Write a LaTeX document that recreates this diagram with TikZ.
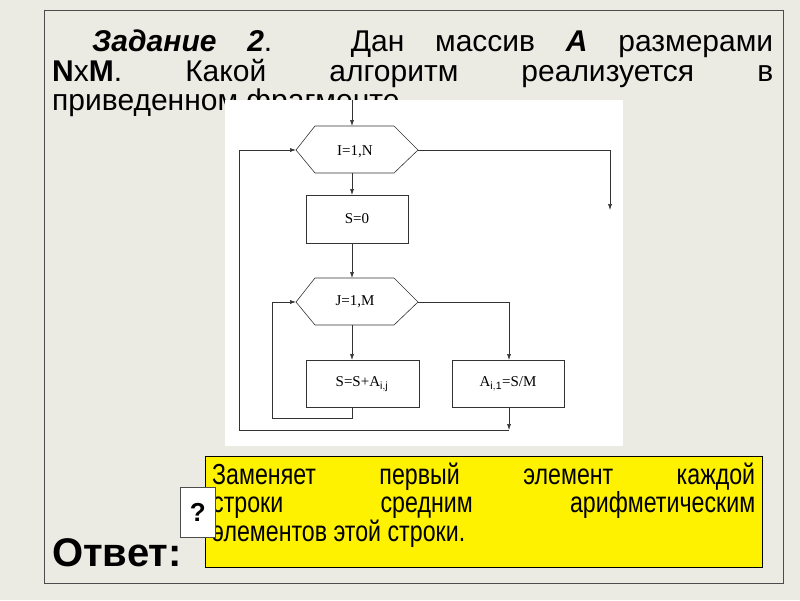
\documentclass[tikz,border=0pt]{standalone}
\usepackage{fontspec}
\setmainfont{Liberation Sans}
\newfontfamily\serf{Liberation Serif}
\newfontfamily\narrowf[FakeStretch=0.8]{Liberation Sans}
\usetikzlibrary{arrows.meta}
\definecolor{bgc}{HTML}{ECEBE3}
\begin{document}
\begin{tikzpicture}[x=1pt,y=-1pt,
  blk/.style={draw=black!80,line width=0.6pt,fill=white},
  con/.style={draw=black!80,line width=0.6pt},
  arr/.style={con,-{Latex[length=6pt,width=4pt]}},
  lab/.style={font=\serf\fontsize{15}{15}\selectfont}]
\useasboundingbox (0,0) rectangle (800,600);
\fill[bgc] (0,0) rectangle (800,600);
\draw[black!70,line width=0.8pt] (44,10) rectangle (783,583);
\node[anchor=north west,inner sep=0,text width=721pt,align=justify] (title) at (52,30)
 {\fontsize{30}{37}\selectfont\hspace*{40pt}\textbf{\textit{Задание 2}}. Дан массив \textbf{\textit{A}} размерами\linebreak \textbf{N}x\textbf{M}. Какой алгоритм реализуется в\linebreak приведенном фрагменте};
\fill[white] (225,100) rectangle (623,446);
% flowchart
\draw[blk] (296,150) -- (315,126) -- (394,126) -- (418,150) -- (394,173) -- (315,173) -- cycle;
\node[lab] (t1) at (355,152) {I=1,N};
\draw[blk] (306,195) rectangle (408,243); \node[lab] (s0) at (357,219) {S=0};
\draw[blk] (296,302) -- (315,278) -- (394,278) -- (418,302) -- (394,325) -- (315,325) -- cycle;
\node[lab] (t2) at (355,302) {J=1,M};
\draw[blk] (306,360) rectangle (419,407); \node[lab] (ss) at (362,384) {S=S+A$_{\mathrm{i,j}}$};
\draw[blk] (452,360) rectangle (564,407); \node[lab] (aa) at (508,384) {A$_{\mathrm{i,1}}$=S/M};
\coordinate (top) at (352,100);
\draw[arr] (top) -- (352,126);
\draw[arr] (352,173) -- (352,195);
\draw[arr] (352,243) -- (352,278);
\draw[arr] (352,325) -- (352,360);
\draw[arr] (418,150) -- (610,150) -- (610,210);
\draw[arr] (418,302) -- (509,302) -- (509,360);
\draw[arr] (352,407) -- (352,418) -- (272,418) -- (272,302) -- (296,302);
\draw[arr] (509,407) -- (509,430);
\draw[arr] (509,430) -- (239,430) -- (239,150) -- (296,150);
% answer
\node[anchor=base west,inner sep=0,font=\bfseries\fontsize{40}{40}\selectfont] (otv) at (52,566) {Ответ:};
\node[draw=black,line width=0.8pt,fill=yellow,anchor=north west,inner sep=0,minimum width=557pt,minimum height=111pt] (ans) at (205,456) {};
\node[anchor=north west,inner sep=0,text width=543pt,align=justify] (anst) at (212,463)
 {\narrowf\fontsize{29}{34}\selectfont Заменяет первый элемент каждой\linebreak строки средним арифметическим\linebreak элементов этой строки.};
\node[draw=black!70,fill=white,anchor=north west,inner sep=0,minimum width=35pt,minimum height=50pt,font=\bfseries\fontsize{26}{26}\selectfont] (q) at (180,487) {?};
\end{tikzpicture}
\end{document}
